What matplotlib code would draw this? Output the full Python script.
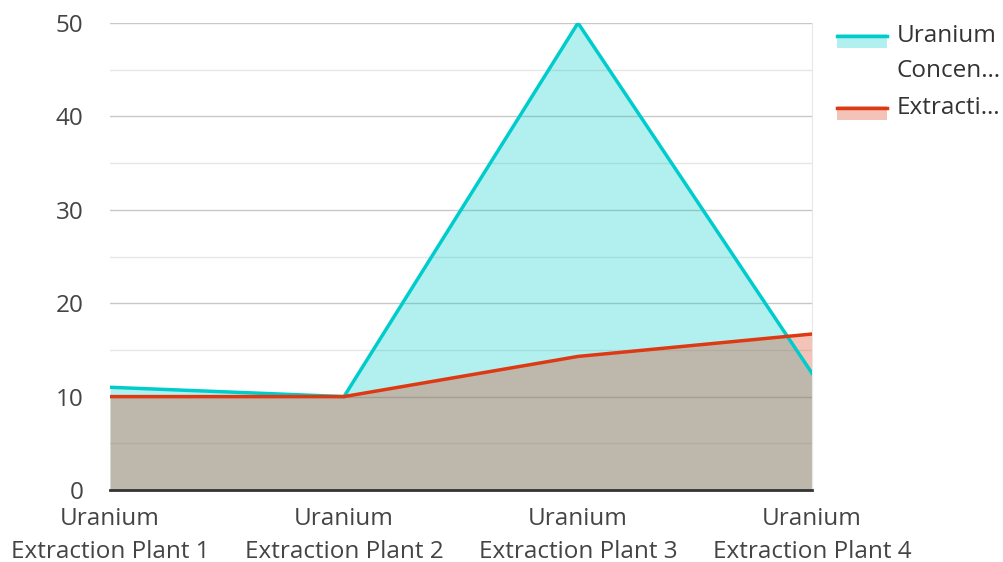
import matplotlib.pyplot as plt
from matplotlib.patches import Rectangle
from matplotlib.lines import Line2D

plt.rcParams['font.family'] = ['Open Sans', 'DejaVu Sans']

plants = ['Uranium\nExtraction Plant 1', 'Uranium\nExtraction Plant 2',
          'Uranium\nExtraction Plant 3', 'Uranium\nExtraction Plant 4']
concentration = [11.0, 10.0, 50.0, 12.5]
extraction = [10.0, 10.0, 14.3, 16.7]
legend_labels = ['Uranium\nConcen…', 'Extracti…']

cyan = '#00cccc'
red = '#dd3a14'
fs = 17.5

fig = plt.figure(figsize=(10.04, 5.62), dpi=100)
ax = fig.add_axes([110 / 1004, 1 - 490 / 562, 702 / 1004, 467 / 562])

x = range(len(plants))
ax.fill_between(x, concentration, color=cyan, alpha=0.3, linewidth=0, zorder=2)
ax.fill_between(x, extraction, color=red, alpha=0.3, linewidth=0, zorder=2)
ax.plot(x, concentration, color=cyan, linewidth=2.5, zorder=4, solid_joinstyle='miter')
ax.plot(x, extraction, color=red, linewidth=2.5, zorder=4, solid_joinstyle='miter')

ax.set_xlim(0, 3)
ax.set_ylim(0, 50)
ax.set_yticks([0, 10, 20, 30, 40, 50])
ax.set_yticks([5, 15, 25, 35, 45], minor=True)
ax.grid(True, which='major', axis='y', color='#c8c8c8', linewidth=1, zorder=1)
ax.grid(True, which='minor', axis='y', color='#e6e6e6', linewidth=1, zorder=1)
ax.set_axisbelow(True)
ax.set_xticks(list(x))
ax.set_xticklabels(plants, linespacing=1.5)

for s in ['top', 'left']:
    ax.spines[s].set_visible(False)
ax.spines['right'].set_color('#e8e8e8')
ax.spines['bottom'].set_color('#333333')
ax.spines['bottom'].set_linewidth(2)
ax.spines['bottom'].set_zorder(5)
ax.tick_params(axis='both', which='both', length=0, labelsize=fs, colors='#444444')
ax.tick_params(axis='y', pad=19)
ax.tick_params(axis='x', pad=12)

# legend drawn by hand so the clipped labels sit like the original
for i, (col, lab) in enumerate(zip([cyan, red], legend_labels)):
    top = 34 + i * 72
    fig.patches.append(Rectangle((837 / 1004, 1 - (top + 14) / 562), 50 / 1004, 14 / 562,
                                 transform=fig.transFigure, color=col, alpha=0.3, linewidth=0))
    fig.lines.append(Line2D([837 / 1004, 887 / 1004], [1 - (top + 1.5) / 562] * 2,
                            transform=fig.transFigure, color=col, linewidth=2.5))
    fig.text(897 / 1004, 1 - (top - 10) / 562, lab, fontsize=fs, color='#333333',
             va='top', ha='left', linespacing=1.6)

fig.savefig('out.png', dpi=100)
